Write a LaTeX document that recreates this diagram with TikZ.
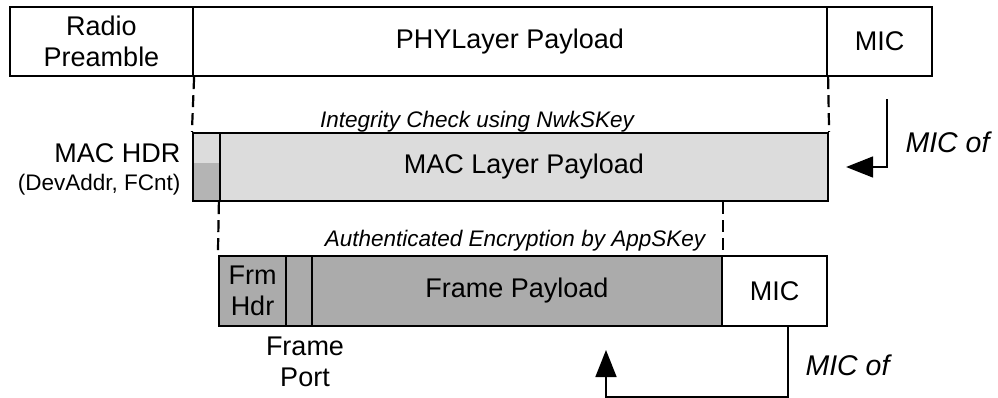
\documentclass[tikz,border=0pt]{standalone}
\usepackage{fontspec}
\setmainfont{Liberation Sans}
\usetikzlibrary{arrows.meta}
\definecolor{macgray}{HTML}{DCDCDC}
\definecolor{hdrdark}{HTML}{B4B4B4}
\definecolor{frmgray}{HTML}{ABABAB}
\tikzset{
  cell/.style={draw=black, line width=2.2pt, inner sep=0pt, align=center,
    font=\fontsize{27}{31}\selectfont},
  guide/.style={draw=black, line width=2.2pt, dash pattern=on 12pt off 6pt},
  note/.style={font=\fontsize{22.5}{26}\selectfont\itshape, anchor=base},
  side/.style={font=\fontsize{27}{31}\selectfont, anchor=base east},
  sidesmall/.style={font=\fontsize{22.5}{26}\selectfont, anchor=base east},
  micof/.style={font=\fontsize{28.5}{32}\selectfont\itshape, anchor=base west},
  arr/.style={draw=black, line width=1.6pt, -{Triangle[length=27pt,width=21pt]}}
}
\begin{document}
\begin{tikzpicture}[x=1pt, y=-1pt]
\useasboundingbox (0,0) rectangle (998,397);

% PHY frame
\node[cell, minimum width=183pt, minimum height=69pt] (radio) at (101.5,41.5) {Radio\\Preamble};
\node[cell, minimum width=634pt, minimum height=69pt] (phy) at (510,41.5) {PHYLayer Payload};
\node[cell, minimum width=105pt, minimum height=69pt] (mic1) at (879.5,41.5) {MIC};

% MAC frame
\node[cell, fill=macgray, minimum width=27pt, minimum height=68pt,
  path picture={\fill[hdrdark] (path picture bounding box.south west) rectangle ([yshift=38pt]path picture bounding box.south east);}]
  (machdr) at (206.5,167) {};
\node[cell, fill=macgray, minimum width=608pt, minimum height=68pt] (macpay) at (524,167) {MAC Layer Payload};

% Application frame
\node[cell, fill=frmgray, minimum width=67pt, minimum height=70pt] (frmhdr) at (252.5,291) {Frm\\Hdr};
\node[cell, fill=frmgray, minimum width=26pt, minimum height=70pt] (fport) at (299,291) {};
\node[cell, fill=frmgray, minimum width=410pt, minimum height=70pt] (fpay) at (517,291) {Frame Payload};
\node[cell, minimum width=105pt, minimum height=70pt] (mic2) at (774.5,291) {MIC};

% guide lines between layers
\draw[guide] (radio.south east) -- (machdr.north west);
\draw[guide] (phy.south east) -- (macpay.north east);
\draw[guide] (macpay.south west) -- (frmhdr.north west);
\draw[guide] (fpay.north east |- macpay.south) -- (fpay.north east);

% labels
\node[note] (integ) at (477,127) {Integrity Check using NwkSKey};
\node[note] (authenc) at (515,246) {Authenticated Encryption by AppSKey};
\node[side] (hdrlbl) at (184,162) {MAC HDR};
\node[sidesmall] (hdrsub) at (184,190) {(DevAddr, FCnt)};
\node[font=\fontsize{27}{31}\selectfont, align=center, anchor=north] (portlbl) at (305,333) {Frame\\Port};

% MIC arrows
\coordinate (a1s) at (887,99);
\coordinate (a1e) at ([xshift=17pt]macpay.east);
\draw[arr] (a1s) |- (a1e);
\node[micof] (micof1) at (902,152) {MIC of};

\coordinate (a2s) at ([xshift=13.5pt]mic2.south);
\coordinate (a2e) at (606,350);
\draw[arr] (a2s) -- ++(0,70) -| (a2e);
\node[micof] (micof2) at (802,375) {MIC of};
\end{tikzpicture}
\end{document}
